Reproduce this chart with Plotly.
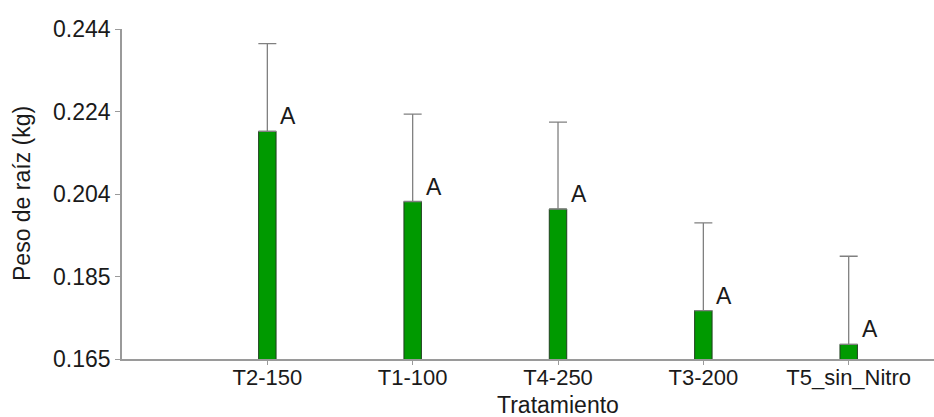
import numpy as np
import plotly.graph_objects as go

# Root weight per treatment (means with upper error)
tratamientos = ["T2-150", "T1-100", "T4-250", "T3-200", "T5_sin_Nitro"]
peso_raiz = [0.2195, 0.2027, 0.2009, 0.1766, 0.1685]
error_sup = [0.0210, 0.0209, 0.0208, 0.0210, 0.0211]
letras = ["A", "A", "A", "A", "A"]

y_min, y_max = 0.165, 0.244
y_ticktext = ["0.165", "0.185", "0.204", "0.224", "0.244"]
y_tickvals = np.linspace(y_min, y_max, len(y_ticktext))

FONT = "Arial, Liberation Sans, sans-serif"
TXT = "#1a1a1a"
AXIS = "#9a9a9a"

fig = go.Figure()
fig.add_trace(go.Bar(
    x=tratamientos,
    y=peso_raiz,
    width=0.12,
    marker=dict(color="#009a00", line=dict(color="#1f3f1f", width=1)),
    error_y=dict(
        type="data", array=error_sup, arrayminus=[0] * len(error_sup),
        symmetric=False, color="#808080", thickness=1.3, width=9,
    ),
    showlegend=False,
))

# Significance letters beside each bar
for cat, val, let in zip(tratamientos, peso_raiz, letras):
    fig.add_annotation(
        x=cat, y=val, xref="x", yref="y", text=let, showarrow=False,
        xanchor="left", yanchor="bottom", xshift=11, yshift=0,
        font=dict(family=FONT, size=23, color=TXT),
    )

# Axis titles
fig.add_annotation(
    x=2, y=0, xref="x", yref="paper", text="Tratamiento", showarrow=False,
    xanchor="center", yanchor="top", yshift=-31,
    font=dict(family=FONT, size=23, color=TXT),
)
fig.add_annotation(
    x=0, y=0.5, xref="paper", yref="paper", text="Peso de raíz (kg)",
    showarrow=False, textangle=-90, xanchor="center", yanchor="middle",
    xshift=-100, font=dict(family=FONT, size=23, color=TXT),
)

fig.update_layout(
    width=934, height=417,
    margin=dict(l=122, r=0, t=29, b=58),
    plot_bgcolor="white", paper_bgcolor="white",
    font=dict(family=FONT, size=22, color=TXT),
)
fig.update_xaxes(
    type="category", range=[-1, 4.587],
    showline=True, linecolor=AXIS, linewidth=1.5,
    ticks="outside", ticklen=4, tickcolor=AXIS, tickwidth=1,
    ticklabelstandoff=-6,
    showgrid=False, zeroline=False,
    tickfont=dict(family=FONT, size=22, color=TXT),
)
fig.update_yaxes(
    range=[y_min, y_max], tickvals=y_tickvals, ticktext=y_ticktext,
    showline=True, linecolor=AXIS, linewidth=1.5,
    ticks="outside", ticklen=5, tickcolor=AXIS, tickwidth=1,
    showgrid=False, zeroline=False,
    tickfont=dict(family=FONT, size=23, color=TXT),
)

fig.write_html("out.html")
